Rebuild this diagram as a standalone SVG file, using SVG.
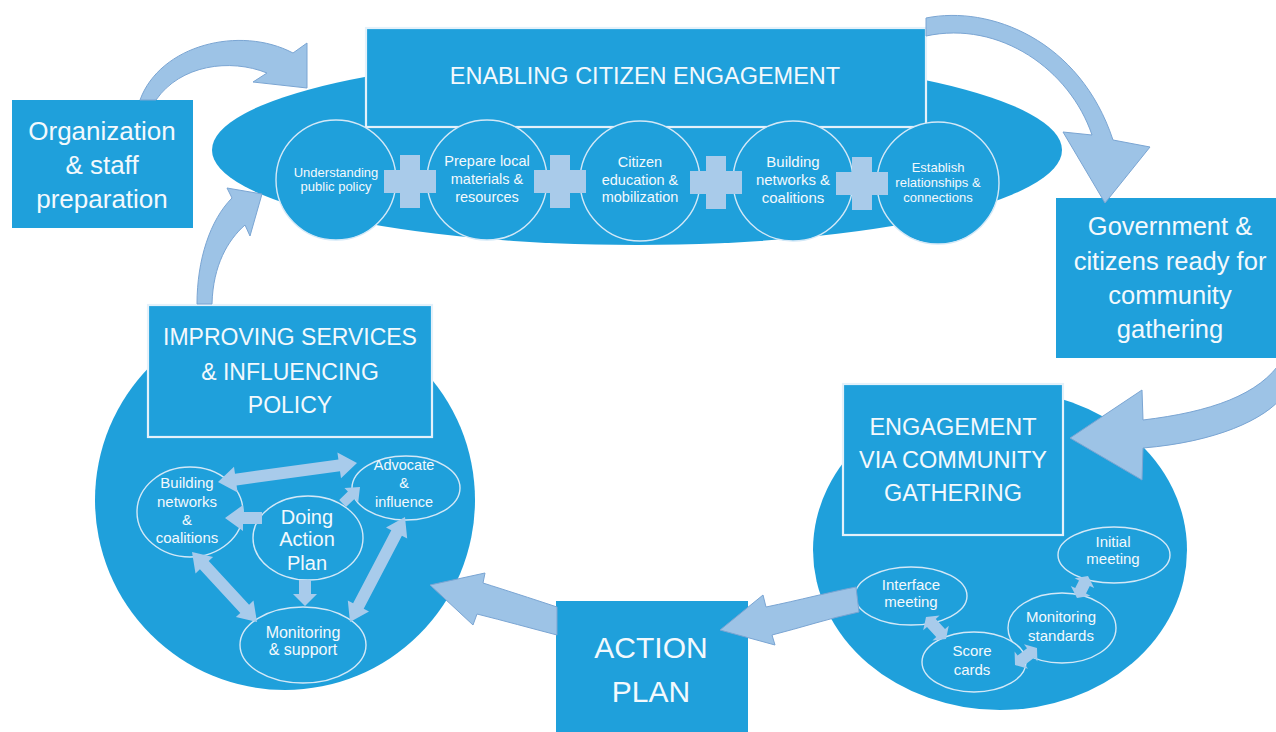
<svg xmlns="http://www.w3.org/2000/svg" width="1276" height="732" viewBox="0 0 1276 732">
<style>
.bg{fill:#ffffff}
.blue{fill:#1fa0db}
.box{fill:#1fa0db}
.boxw{fill:#1fa0db;stroke:#e4f1fa;stroke-width:2.2}
.ring{fill:#1fa0db;stroke:#d3e8f7;stroke-width:1.4}
.arr{fill:#9dc3e6;stroke:#7aa5d3;stroke-width:1}
.inarr{fill:#a8cbeb}
.plus{fill:#a9cbea}
text{font-family:"Liberation Sans",Arial,sans-serif;fill:#f3f9fd;text-anchor:middle}
.big{font-size:26px}
.ttl{font-size:23.5px}
</style>
<rect class="bg" x="0" y="0" width="1276" height="732"/>

<g id="enabling-ellipse">
<ellipse class="blue" cx="637" cy="150" rx="425" ry="95"/>
</g>
<g id="improving-circle">
<circle class="blue" cx="285" cy="500" r="190"/>
</g>
<g id="engagement-circle">
<ellipse class="blue" cx="1000" cy="550" rx="187" ry="160"/>
</g>

<g id="organization">
<rect class="box" x="12" y="100" width="181" height="128"/>
<text class="big" x="102" y="140">Organization</text>
<text class="big" x="102" y="174">&amp; staff</text>
<text class="big" x="102" y="208">preparation</text>
</g>

<g id="enabling-title">
<rect class="boxw" x="366" y="28" width="560" height="99"/>
<text class="ttl" x="645" y="84">ENABLING CITIZEN ENGAGEMENT</text>
</g>

<g id="government">
<rect class="box" x="1056" y="198" width="230" height="160"/>
<text style="font-size:25.5px" x="1170" y="235">Government &amp;</text>
<text style="font-size:25.5px" x="1170" y="270">citizens ready for</text>
<text style="font-size:25.5px" x="1170" y="304">community</text>
<text style="font-size:25.5px" x="1170" y="338">gathering</text>
</g>

<g id="improving-title">
<rect class="boxw" x="148" y="305" width="284" height="132"/>
<text style="font-size:23px" x="290" y="345">IMPROVING SERVICES</text>
<text style="font-size:23px" x="290" y="380">&amp; INFLUENCING</text>
<text style="font-size:23px" x="290" y="413">POLICY</text>
</g>

<g id="engagement-title">
<rect class="boxw" x="843" y="384" width="220" height="151"/>
<text class="ttl" x="953" y="435">ENGAGEMENT</text>
<text class="ttl" x="953" y="468">VIA COMMUNITY</text>
<text class="ttl" x="953" y="501">GATHERING</text>
</g>

<g id="action-plan">
<rect class="box" x="556" y="601" width="192" height="140"/>
<text style="font-size:30px" x="651" y="658">ACTION</text>
<text style="font-size:30px" x="651" y="702">PLAN</text>
</g>

<g id="understanding">
<circle class="ring" cx="336" cy="180" r="60"/>
<text style="font-size:13px" x="336" y="177">Understanding</text>
<text style="font-size:13px" x="336" y="191">public policy</text>
</g>
<g id="prepare">
<circle class="ring" cx="487" cy="180" r="60"/>
<text style="font-size:14.5px" x="487" y="166">Prepare local</text>
<text style="font-size:14.5px" x="487" y="184">materials &amp;</text>
<text style="font-size:14.5px" x="487" y="202">resources</text>
</g>
<g id="citizen-education">
<circle class="ring" cx="640" cy="181" r="60"/>
<text style="font-size:14.5px" x="640" y="167">Citizen</text>
<text style="font-size:14.5px" x="640" y="185">education &amp;</text>
<text style="font-size:14.5px" x="640" y="202">mobilization</text>
</g>
<g id="building-networks-top">
<circle class="ring" cx="793" cy="181" r="60"/>
<text style="font-size:15px" x="793" y="167">Building</text>
<text style="font-size:15px" x="793" y="185">networks &amp;</text>
<text style="font-size:15px" x="793" y="203">coalitions</text>
</g>
<g id="establish">
<circle class="ring" cx="938" cy="183" r="61"/>
<text style="font-size:13px" x="938" y="172">Establish</text>
<text style="font-size:13px" x="938" y="187">relationships &amp;</text>
<text style="font-size:13px" x="938" y="202">connections</text>
</g>

<g id="plus-signs">
<path class="plus" d="M384,170h16v-15h20v15h16v23h-16v15h-20v-15h-16z"/>
<path class="plus" d="M534,170h16v-15h20v15h16v23h-16v15h-20v-15h-16z"/>
<path class="plus" d="M690,171h16v-15h20v15h16v23h-16v15h-20v-15h-16z"/>
<path class="plus" d="M836,172h16v-15h20v15h16v23h-16v15h-20v-15h-16z"/>
</g>

<g id="building-networks">
<ellipse class="ring" cx="190" cy="512" rx="53" ry="45"/>
<text style="font-size:15px" x="187" y="488">Building</text>
<text style="font-size:15px" x="187" y="507">networks</text>
<text style="font-size:15px" x="187" y="525">&amp;</text>
<text style="font-size:15px" x="187" y="543">coalitions</text>
</g>
<g id="advocate">
<ellipse class="ring" cx="406" cy="488" rx="54" ry="32"/>
<text style="font-size:14.5px" x="404" y="470">Advocate</text>
<text style="font-size:14.5px" x="404" y="488">&amp;</text>
<text style="font-size:14.5px" x="404" y="507">influence</text>
</g>
<g id="doing-action-plan">
<ellipse class="ring" cx="308" cy="538" rx="55" ry="42"/>
<text style="font-size:20px" x="307" y="524">Doing</text>
<text style="font-size:20px" x="307" y="546">Action</text>
<text style="font-size:20px" x="307" y="570">Plan</text>
</g>
<g id="monitoring-support">
<ellipse class="ring" cx="303" cy="645" rx="63" ry="38"/>
<text style="font-size:16px" x="303" y="638">Monitoring</text>
<text style="font-size:16px" x="303" y="655">&amp; support</text>
</g>

<g id="initial-meeting">
<ellipse class="ring" cx="1114" cy="555" rx="56" ry="28"/>
<text style="font-size:15px" x="1113" y="547">Initial</text>
<text style="font-size:15px" x="1113" y="564">meeting</text>
</g>
<g id="monitoring-standards">
<ellipse class="ring" cx="1062" cy="628" rx="54" ry="35"/>
<text style="font-size:15px" x="1061" y="622">Monitoring</text>
<text style="font-size:15px" x="1061" y="641">standards</text>
</g>
<g id="score-cards">
<ellipse class="ring" cx="974" cy="662" rx="52" ry="30"/>
<text style="font-size:15px" x="972" y="656">Score</text>
<text style="font-size:15px" x="972" y="675">cards</text>
</g>
<g id="interface-meeting">
<ellipse class="ring" cx="911" cy="596" rx="56" ry="29"/>
<text style="font-size:15px" x="911" y="590">Interface</text>
<text style="font-size:15px" x="911" y="607">meeting</text>
</g>

<g id="connectors">
<path class="arr" d="M140,100 C160,45 240,25 293,53 L307,43 L307,88 L253,82 L267,73 C230,58 180,65 156,100 Z"/>
<path class="arr" d="M197,304 C197,260 210,220 232,198 L227,188 L262,194 L250,236 L245,225 C228,240 213,265 212,304 Z"/>
<path class="arr" d="M926,18 C990,5 1080,40 1113,140 L1150,147 L1105,203 L1063,132 L1092,135 C1070,70 1000,20 926,36 Z"/>
<path class="arr" d="M1282,360 C1260,395 1210,412 1143,420 L1142,390 L1070,438 L1142,480 L1143,448 C1215,442 1265,420 1284,395 Z"/>
<path class="arr" d="M856,587 C830,592 800,600 766,607 L763,595 L720,630 L775,645 L772,635 C800,628 830,618 859,612 Z"/>
<path class="arr" d="M557,607 C530,598 505,590 483,583 L485,573 L430,585 L473,625 L477,614 C505,621 530,628 557,635 Z"/>

<polygon class="inarr" points="218,482 234,466.7 235,473.7 338.4,459.5 337.4,452.5 357,463 341,478.3 340,471.3 236.6,485.5 237.6,492.5"/>
<polygon class="inarr" points="225,518 243,505 243,512 262,512 262,524 243,524 243,531"/>
<polygon class="inarr" points="360,487 358.2,502.5 354.7,498.8 346,507.1 339.2,499.9 347.9,491.6 344.4,487.9"/>
<polygon class="inarr" points="299,580 311,580 311,594 317,594 305,606 293,594 299,594"/>
<polygon class="inarr" points="192,552 213.1,557 208.7,561.1 249.1,604.7 253.5,600.6 257,622 235.9,617 240.3,612.9 199.9,569.3 195.5,573.4"/>
<polygon class="inarr" points="405,517 407.2,538.6 401.9,535.8 363.7,608.8 369,611.6 350,622 347.8,600.4 353.1,603.2 391.3,530.2 386,527.4"/>

<polygon class="inarr" points="1088,576 1094.2,588.1 1089.8,585.9 1086,593.5 1090.4,595.7 1077,598 1070.8,585.9 1075.2,588.1 1079,580.5 1074.6,578.3"/>
<polygon class="inarr" points="1037,648 1037.4,661.6 1034.4,657.6 1025,664.8 1028,668.8 1015,665 1014.6,651.4 1017.6,655.4 1027,648.2 1024,644.2"/>
<polygon class="inarr" points="946,639 948.8,625.7 945,629.1 935.8,618.9 939.6,615.5 926,617 923.2,630.3 927,626.9 936.2,637.1 932.4,640.5"/>
</g>
</svg>
